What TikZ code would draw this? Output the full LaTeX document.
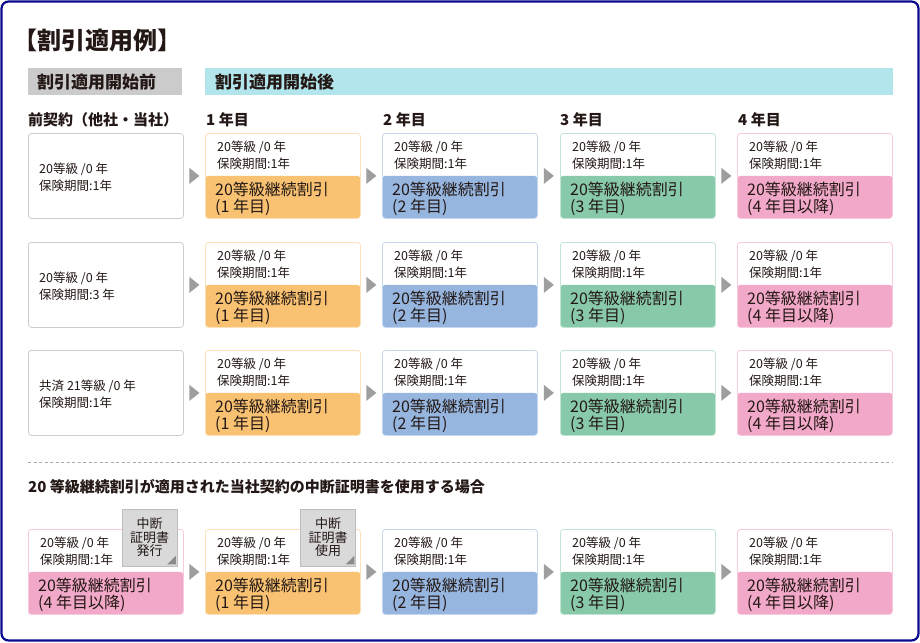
\documentclass[tikz,border=0pt]{standalone}
\usepackage{fontspec}
\setmainfont{Noto Sans CJK JP}
\usetikzlibrary{calc}
\definecolor{navy}{HTML}{0A0A8E}
\definecolor{cOr}{HTML}{F8C272}
\definecolor{cBl}{HTML}{96B6E0}
\definecolor{cGr}{HTML}{88C9AA}
\definecolor{cPk}{HTML}{F2A8C8}
\definecolor{bOr}{HTML}{FCE0B8}
\definecolor{bBl}{HTML}{C6D8F0}
\definecolor{bGr}{HTML}{C2E4D4}
\definecolor{bPk}{HTML}{F8CADD}
\definecolor{bGy}{HTML}{CCCCCC}
\definecolor{txt}{HTML}{231815}
\definecolor{hdrgrey}{HTML}{CBCBCB}
\definecolor{hdrblue}{HTML}{B3E5EC}
\definecolor{tri}{HTML}{9E9E9F}
\definecolor{bdgfill}{HTML}{D9D9D9}
\definecolor{bdgline}{HTML}{BDBDBD}
\definecolor{foldc}{HTML}{8A8A8A}
\definecolor{dashc}{HTML}{AAAAAA}
\tikzset{
  cardbox/.style n args={2}{draw=#2, line width=0.8pt, fill=white, rounded corners=3pt,
    minimum width=155pt, minimum height=85pt, anchor=north west, inner sep=0pt,
    path picture={\fill[#1] ([yshift=-42.5pt]path picture bounding box.north west) rectangle (path picture bounding box.south east);}},
  plaincard/.style={draw=bGy, line width=0.8pt, fill=white, rounded corners=3pt,
    minimum width=155pt, minimum height=85pt, anchor=north west, inner sep=0pt},
  smalltxt/.style={anchor=west, inner sep=0pt, text=txt, font=\fontsize{12.5}{14}\selectfont},
  bigtxt/.style={anchor=west, inner sep=0pt, text=txt, font=\fontsize{16}{18}\selectfont},
  headtxt/.style={anchor=west, inner sep=0pt, text=txt, font=\bfseries\fontsize{15}{17}\selectfont},
  bartxt/.style={anchor=west, inner sep=0pt, text=txt, font=\bfseries\fontsize{17}{19}\selectfont},
  hbar/.style={anchor=north west, inner sep=0pt, minimum height=27pt},
  badge/.style={draw=bdgline, line width=0.6pt, fill=bdgfill, minimum width=55pt, minimum height=57pt,
    inner sep=0pt, align=center, text=txt, font=\fontsize{13}{13.5}\selectfont},
}
\newcommand\mycard[6]{%
  \node[cardbox={#4}{#5}] (#1) at (#2,#3) {};
  \node[smalltxt] (#1-a) at ($(#1.north west)+(12,14.5)$) {20等級 /0 年};
  \node[smalltxt] (#1-b) at ($(#1.north west)+(12,31)$) {保険期間:1年};
  \node[bigtxt] (#1-c) at ($(#1.north west)+(10,56.5)$) {20等級継続割引};
  \node[bigtxt] (#1-d) at ($(#1.north west)+(10,74)$) {#6};
}
\newcommand\myarrow[2]{%
  \fill[tri] ($(#1.east)!0.5!(#2.west)+(-5,-8)$) -- ++(10,8) -- ++(-10,8) -- cycle;
}
\begin{document}
\begin{tikzpicture}[x=1pt,y=-1pt]
\useasboundingbox (0,0) rectangle (920,642);
\draw[navy, line width=2.2pt, rounded corners=7pt] (1.5,1.5) rectangle (918.5,640.5);

% title
\node[anchor=west, inner sep=0pt, text=txt, font=\bfseries\fontsize{24}{26}\selectfont] (title) at (13,40) {【割引適用例】};

% header bars
\node[hbar, fill=hdrgrey, minimum width=154pt] (barL) at (28,68) {};
\node[bartxt] (barLt) at (37,82) {割引適用開始前};
\node[hbar, fill=hdrblue, minimum width=688pt] (barR) at (205,68) {};
\node[bartxt] (barRt) at (215,82) {割引適用開始後};

% column headers
\node[headtxt] (h0) at (28,120) {前契約（他社・当社）};
\node[headtxt] (h1) at (206,120) {1 年目};
\node[headtxt] (h2) at (383,120) {2 年目};
\node[headtxt] (h3) at (560,120) {3 年目};
\node[headtxt] (h4) at (738,120) {4 年目};

% rows 1-3
\foreach \r/\y/\la/\lb in {1/133/{20等級 /0 年}/{保険期間:1年}, 2/242/{20等級 /0 年}/{保険期間:3 年}, 3/350/{共済 21等級 /0 年}/{保険期間:1年}}{
  \node[plaincard] (r\r c0) at (28,\y) {};
  \node[smalltxt] (r\r c0-a) at ($(r\r c0.north west)+(11,36)$) {\la};
  \node[smalltxt] (r\r c0-b) at ($(r\r c0.north west)+(11,52.5)$) {\lb};
  \mycard{r\r c1}{205}{\y}{cOr}{bOr}{(1 年目)}
  \mycard{r\r c2}{382}{\y}{cBl}{bBl}{(2 年目)}
  \mycard{r\r c3}{560}{\y}{cGr}{bGr}{(3 年目)}
  \mycard{r\r c4}{737}{\y}{cPk}{bPk}{(4 年目以降)}
  \myarrow{r\r c0}{r\r c1}
  \myarrow{r\r c1}{r\r c2}
  \myarrow{r\r c2}{r\r c3}
  \myarrow{r\r c3}{r\r c4}
}

% dashed separator
\coordinate (dsL) at (28,462.5);
\coordinate (dsR) at (893,462.5);
\draw[dashc, line width=0.7pt, dash pattern=on 3pt off 2.5pt] (dsL) -- (dsR);

\node[headtxt] (sec) at (28,487) {20 等級継続割引が適用された当社契約の中断証明書を使用する場合};

% row 4
\mycard{r4c0}{28}{529}{cPk}{bPk}{(4 年目以降)}
\mycard{r4c1}{205}{529}{cOr}{bOr}{(1 年目)}
\mycard{r4c2}{382}{529}{cBl}{bBl}{(2 年目)}
\mycard{r4c3}{560}{529}{cGr}{bGr}{(3 年目)}
\mycard{r4c4}{737}{529}{cPk}{bPk}{(4 年目以降)}
\myarrow{r4c0}{r4c1}
\myarrow{r4c1}{r4c2}
\myarrow{r4c2}{r4c3}
\myarrow{r4c3}{r4c4}

% badges
\node[badge] (bdg1) at (149.5,537.5) {中断\\証明書\\発行};
\fill[foldc] ($(bdg1.south east)+(-10,-2)$) -- ++(8.5,0) -- ++(0,-8.5) -- cycle;
\node[badge] (bdg2) at (328,537.5) {中断\\証明書\\使用};
\fill[foldc] ($(bdg2.south east)+(-10,-2)$) -- ++(8.5,0) -- ++(0,-8.5) -- cycle;
\end{tikzpicture}
\end{document}
